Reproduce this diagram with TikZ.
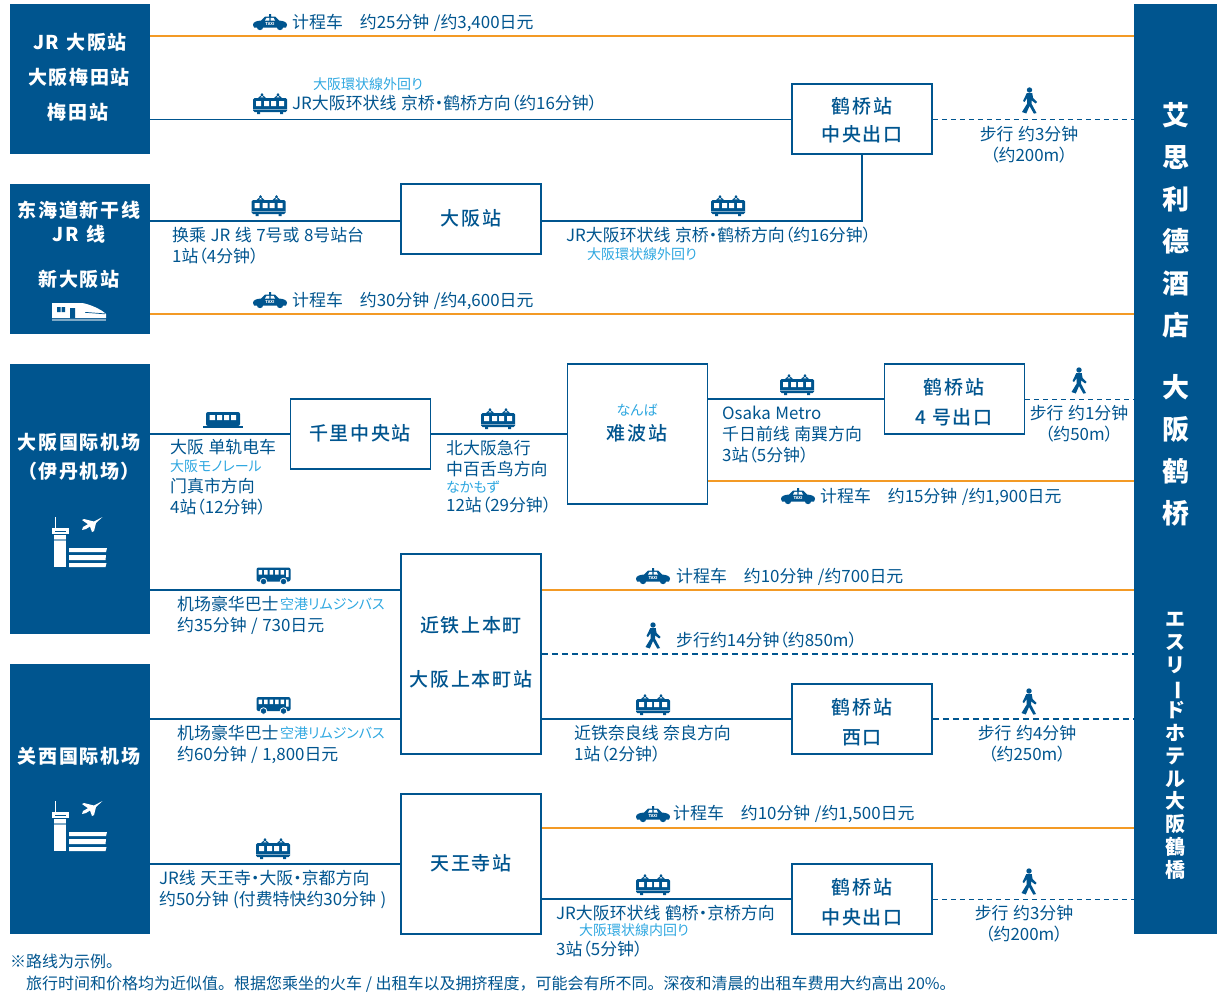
\documentclass[tikz,border=0pt]{standalone}
\usepackage{fontspec}
\setmainfont[RawFeature=+palt,WordSpace=1.2]{Noto Sans CJK SC}
\newfontfamily\notefont{Noto Sans CJK SC}
\newfontfamily\medfont[RawFeature=+palt,LetterSpace=9]{Noto Sans CJK SC Medium}
\definecolor{navy}{HTML}{00558F}
\definecolor{sky}{HTML}{2EA7E0}
\definecolor{amber}{HTML}{F39A25}
\definecolor{haze}{HTML}{7FAAC7}
\tikzset{
  blk/.style={fill=navy,draw=none,minimum width=#1,inner sep=0},
  stn/.style={draw=navy,line width=1.9pt,fill=white,inner sep=0},
  rt/.style={navy,line width=1.9pt},
  taxiroute/.style={amber,line width=1.9pt},
  walkthin/.style={navy,line width=1pt,dash pattern=on 5pt off 4pt},
  walkthick/.style={navy,line width=1.9pt,dash pattern=on 6pt off 4pt},
  txt/.style={navy,anchor=west,inner sep=0,align=left,font=\fontsize{16.9}{21}\selectfont},
  ctr/.style={navy,anchor=center,inner sep=0,align=center,font=\fontsize{16.9}{21}\selectfont},
  sm/.style={sky,anchor=west,inner sep=0,font=\fontsize{14}{15}\selectfont},
  note/.style={navy,anchor=west,inner sep=0,font=\fontsize{16}{17}\notefont\selectfont},
  wh/.style={white,inner sep=0,anchor=center,align=center,font=\fontsize{19}{24}\selectfont\bfseries\addfontfeatures{LetterSpace=9}},
  bx/.style={navy,inner sep=0,anchor=center,font=\fontsize{19}{24}\medfont\selectfont},
  taxi/.pic={
    \fill[navy] (-17,3) .. controls (-17,0) and (-14,-1) .. (-9,-1.5) -- (-5,-5.5) -- (-1,-5.5) -- (-1,-8) -- (1,-8) -- (1,-5.5) -- (5,-5.5) -- (9,-1.5) .. controls (14,-1) and (17,0) .. (17,3) -- (16,5.5) -- (-16,5.5) -- cycle;
    \fill[navy] (-10,5) circle (3.2) (10,5) circle (3.2);
    \fill[white] (-5,-1.5) -- (-3.5,-4.2) -- (-0.6,-4.2) -- (-0.6,-1.5) -- cycle (5,-1.5) -- (3.5,-4.2) -- (0.6,-4.2) -- (0.6,-1.5) -- cycle;
    \node[white,inner sep=0,font=\fontsize{4}{4}\selectfont\bfseries] (tx) at (0,2) {TAXI};
  },
  traini/.pic={
    \fill[navy] (-12,-6) -- (-8,-9.5) -- (-4,-6) -- cycle (4,-6) -- (8,-9.5) -- (12,-6) -- cycle;
    \fill[navy] (-8,-9.5) circle (1.4) (8,-9.5) circle (1.4);
    \fill[white] (-9.6,-6.6) -- (-8,-8) -- (-6.4,-6.6) -- cycle (6.4,-6.6) -- (8,-8) -- (9.6,-6.6) -- cycle;
    \fill[navy,rounded corners=1.5pt] (-17,-6) rectangle (17,8);
    \fill[navy] (-13,8) rectangle (-10,10) (10,8) rectangle (13,10);
    \fill[white] (-14,-3) rectangle (-9,2) (-6,-3) rectangle (-1,2) (1,-3) rectangle (6,2) (9,-3) rectangle (14,2);
    \fill[haze] (-17,4.8) rectangle (17,5.6);
  },
  busi/.pic={
    \fill[navy,rounded corners=2pt] (-17,-8) rectangle (17,6);
    \fill[white] (-15,-5.5) rectangle (-11.5,-1) (-9.5,-5.5) rectangle (-6,-1) (-4,-5.5) rectangle (-0.5,-1) (1.5,-5.5) rectangle (5,-1) (7,-5.5) rectangle (10.5,-1) (12.5,-5.5) rectangle (15.2,1.5);
    \fill[navy,draw=white,line width=.8pt] (-10,6) circle (3.3) (10,6) circle (3.3);
  },
  walki/.pic={
    \fill[navy] (0,-11) circle (2.7);
    \fill[navy] (-2.7,-8) -- (2.7,-8) -- (3.6,-3) -- (7.5,1) -- (6.2,2.5) -- (2.2,-.5) -- (2.2,3) -- (7,12) -- (4.4,12.7) -- (0,5) -- (-3.2,12.5) -- (-7.5,11) -- (-2.3,2.5) -- (-2.3,-3) -- (-5,1) -- (-6.5,0) -- cycle;
  },
  monoi/.pic={
    \fill[navy,rounded corners=2pt] (-17,-8) rectangle (17,6);
    \fill[navy] (-20,6) rectangle (20,8);
    \fill[white] (-13.5,-5) rectangle (-8,0) (-6,-5) rectangle (-1,0) (1,-5) rectangle (6,0) (8,-5) rectangle (13,0);
  },
  toweri/.pic={
    \fill[white] (-23.8,-26) rectangle (-22.8,-15);
    \fill[white] (-26.7,-15) rectangle (-10,-9);
    \fill[navy] (-24,-12.3) rectangle (-13,-11.5);
    \fill[white] (-25,-8) rectangle (-13,24);
    \fill[haze] (-25,-4) rectangle (-13,-2.5);
    \fill[white] (-10,5) -- (28,5) -- (27,9) -- (-10,9) -- cycle (-10,12) -- (27,12) -- (26.5,17) -- (-10,17) -- cycle (-10,20) -- (27.5,20) -- (26.5,24) -- (-10,24) -- cycle;
    \fill[white] (23.5,-26) -- (15,-21.5) -- (5,-24) -- (3,-23) -- (9,-18.8) -- (4,-16) -- (3,-13) -- (7,-14) -- (11,-16.5) -- (13,-11) -- (15,-12) -- (17,-20) -- cycle;
  },
  shink/.pic={
    \fill[white] (-27,-8) -- (3,-8) .. controls (10,-7) and (22,-2) .. (27,3) -- (27,7) -- (-27,7) -- cycle;
    \fill[navy] (-22,-4) rectangle (-18.5,1) (-17.5,-4) rectangle (-14,1) (-9,-3) rectangle (-4,7);
    \fill[navy] (6,1) -- (26,2.5) -- (26,3.2) -- (6,1.7) -- cycle;
    \fill[haze] (-27,8.2) rectangle (27,9.6);
  },
}
\begin{document}
\begin{tikzpicture}[x=1pt,y=-1pt]
\useasboundingbox (0,0) rectangle (1226,1001);
% terminals
\node[blk=140pt,minimum height=150pt] (jr) at (80,79) {};
\node[blk=140pt,minimum height=150pt] (sh) at (80,259) {};
\node[blk=140pt,minimum height=270pt] (it) at (80,499) {};
\node[blk=140pt,minimum height=270pt] (kx) at (80,799) {};
\node[blk=83pt,minimum height=930pt] (ho) at (1175.5,469) {};
% stations
\node[stn,minimum width=140pt,minimum height=70pt] (t1) at (862,119) {};
\node[stn,minimum width=140pt,minimum height=70pt] (os) at (471,219) {};
\node[stn,minimum width=140pt,minimum height=70pt] (se) at (360.5,434) {};
\node[stn,minimum width=140pt,minimum height=140pt] (nb) at (637.5,434) {};
\node[stn,minimum width=140pt,minimum height=70pt] (t4) at (954.5,399) {};
\node[stn,minimum width=140pt,minimum height=200pt] (ue) at (471,654) {};
\node[stn,minimum width=140pt,minimum height=70pt] (tw) at (862,719) {};
\node[stn,minimum width=140pt,minimum height=140pt] (te) at (471,864) {};
\node[stn,minimum width=140pt,minimum height=70pt] (tc) at (862,899) {};
% routes
\draw[taxiroute] (jr.east |- 0,36) -- (ho.west |- 0,36);
\draw[rt] (jr.east |- 0,119.5) -- (t1.west |- 0,119.5);
\draw[walkthin] (t1.east |- 0,119.5) -- (ho.west |- 0,119.5);
\draw[rt] (sh.east |- 0,221) -- (os.west |- 0,221);
\draw[rt] (os.east |- 0,221) -| (t1.south);
\draw[taxiroute] (sh.east |- 0,314) -- (ho.west |- 0,314);
\draw[rt] (it.east |- se.west) -- (se.west);
\draw[rt] (se.east) -- (nb.west);
\draw[rt] (nb.east |- t4.west) -- (t4.west);
\draw[walkthin] (t4.east) -- (ho.west |- t4.east);
\draw[taxiroute] (nb.east |- 0,481) -- (ho.west |- 0,481);
\draw[rt] (it.east |- 0,590) -- (ue.west |- 0,590);
\draw[taxiroute] (ue.east |- 0,590) -- (ho.west |- 0,590);
\draw[walkthick] (ue.east |- 0,654) -- (ho.west |- 0,654);
\draw[rt] (kx.east |- 0,719) -- (ue.west |- 0,719);
\draw[rt] (ue.east |- 0,719) -- (tw.west);
\draw[walkthick] (tw.east) -- (ho.west |- tw.east);
\draw[taxiroute] (te.east |- 0,828) -- (ho.west |- 0,828);
\draw[rt] (kx.east |- 0,864) -- (te.west);
\draw[rt] (te.east |- 0,899) -- (tc.west);
\draw[walkthin] (tc.east) -- (ho.west |- tc.east);
% terminal labels
\node[wh] (a1) at (80,42) {JR 大阪站};
\node[wh] (a2) at (79,77) {大阪梅田站};
\node[wh] (a3) at (78,112) {梅田站};
\node[wh] (b1) at (79,210) {东海道新干线};
\node[wh] (b2) at (79,234) {JR 线};
\node[wh] (b3) at (79,279) {新大阪站};
\node[wh] (c1) at (79,442) {大阪国际机场};
\node[wh] (c2) at (79,471) {（伊丹机场）};
\node[wh] (d1) at (79,756) {关西国际机场};
\pic at (79,311) {shink};
\pic at (79,543) {toweri};
\pic at (79,827) {toweri};
% hotel labels
\node[white,inner sep=0,anchor=north,align=center,font=\fontsize{27}{42}\selectfont\bfseries] (h1) at (1175.5,102) {艾\\思\\利\\德\\酒\\店\\[20pt]大\\阪\\鹤\\桥};
\node[white,inner sep=0,anchor=north,align=center,font=\fontsize{20}{22.8}\selectfont\bfseries] (h2) at (1175.5,612) {エ\\ス\\リ\\\rotatebox[origin=c]{-90}{ー}\\ド\\ホ\\テ\\ル\\大\\阪\\鶴\\橋};
% station labels
\node[bx] (n1) at (862,106) {鹤桥站};
\node[bx] (n2) at (862,134) {中央出口};
\node[bx] (n3) at (471,218) {大阪站};
\node[bx] (n4) at (360,433) {千里中央站};
\node[bx] (n5) at (637,433) {难波站};
\node[sky,inner sep=0,font=\fontsize{14}{15}\selectfont] (n5k) at (637,410) {なんば};
\node[bx] (n6) at (954,387) {鹤桥站};
\node[bx] (n7) at (954,417) {4 号出口};
\node[bx] (n8) at (471,625) {近铁上本町};
\node[bx] (n9) at (471,679) {大阪上本町站};
\node[bx] (n10) at (862,707) {鹤桥站};
\node[bx] (n11) at (862,738) {西口};
\node[bx] (n12) at (471,863) {天王寺站};
\node[bx] (n13) at (862,887) {鹤桥站};
\node[bx] (n14) at (862,917) {中央出口};
% route 1
\pic at (270,22) {taxi};
\node[txt] (r1) at (292,23) {计程车\hspace{17pt}约25分钟 /约3,400日元};
\node[sm] (r2k) at (313,84) {大阪環状線外回り};
\pic at (270,104) {traini};
\node[txt] (r2) at (292,103) {JR大阪环状线 京桥•鹤桥方向（约16分钟）};
\pic at (1029.5,101) {walki};
\node[ctr] (r3) at (1029,144.5) {步行 约3分钟\\（约200m）};
% route 2
\pic at (268.5,206) {traini};
\node[txt] (r4) at (172,245.5) {换乘 JR 线 7号或 8号站台\\1站（4分钟）};
\pic at (728,206) {traini};
\node[txt] (r5) at (566,235) {JR大阪环状线 京桥•鹤桥方向（约16分钟）};
\node[sm] (r5k) at (587,254) {大阪環状線外回り};
\pic at (270,300) {taxi};
\node[txt] (r6) at (292,301) {计程车\hspace{17pt}约30分钟 /约4,600日元};
% itami
\pic at (223,420) {monoi};
\node[txt] (r7) at (170,447) {大阪 单轨电车};
\node[sm] (r7k) at (170,466) {大阪モノレール};
\node[txt] (r8) at (170,496.5) {门真市方向\\4站（12分钟）};
\pic at (498,419) {traini};
\node[txt] (r9) at (446,458.5) {北大阪急行\\中百舌鸟方向};
\node[sm] (r9k) at (446,487) {なかもず};
\node[txt] (r10) at (446,505) {12站（29分钟）};
\pic at (797,385) {traini};
\node[txt] (r11) at (722,434.5) {Osaka Metro\\千日前线 南巽方向\\3站（5分钟）};
\pic at (1079,381) {walki};
\node[ctr] (r12) at (1079,423.5) {步行 约1分钟\\（约50m）};
\pic at (798,496) {taxi};
\node[txt] (r13) at (820,497) {计程车\hspace{17pt}约15分钟 /约1,900日元};
\pic at (273.5,575.5) {busi};
\node[txt] (r14) at (177,604) {机场豪华巴士};
\node[sm] (r14k) at (280,604) {空港リムジンバス};
\node[txt] (r15) at (177,625.5) {约35分钟 / 730日元};
\pic at (653,576) {taxi};
\node[txt] (r16) at (676,577) {计程车\hspace{17pt}约10分钟 /约700日元};
\pic at (653,636) {walki};
\node[txt] (r17) at (676,640) {步行约14分钟（约850m）};
\pic at (653,705) {traini};
\node[txt] (r18) at (574,743.5) {近铁奈良线 奈良方向\\1站（2分钟）};
\pic at (1029,702) {walki};
\node[ctr] (r19) at (1027,743.5) {步行 约4分钟\\（约250m）};
\pic at (273.5,705) {busi};
\node[txt] (r20) at (177,733) {机场豪华巴士};
\node[sm] (r20k) at (280,733) {空港リムジンバス};
\node[txt] (r21) at (177,754.5) {约60分钟 / 1,800日元};
\pic at (273,849) {traini};
\node[txt] (r22) at (159,889) {JR线  天王寺•大阪•京都方向\\约50分钟 (付费特快约30分钟 )};
\pic at (653,814) {taxi};
\node[txt] (r23) at (673,814) {计程车\hspace{17pt}约10分钟 /约1,500日元};
\pic at (653,885) {traini};
\node[txt] (r24) at (556,913) {JR大阪环状线  鹤桥•京桥方向};
\node[sm] (r24k) at (579,930) {大阪環状線内回り};
\node[txt] (r25) at (556,949) {3站（5分钟）};
\pic at (1029,882) {walki};
\node[ctr] (r26) at (1024,923.5) {步行 约3分钟\\（约200m）};
% notes
\node[note] (f1) at (10,961) {※路线为示例。};
\node[note] (f2) at (26,984.5) {旅行时间和价格均为近似值。根据您乘坐的火车 / 出租车以及拥挤程度，可能会有所不同。深夜和清晨的出租车费用大约高出 20\%。};
\end{tikzpicture}
\end{document}
